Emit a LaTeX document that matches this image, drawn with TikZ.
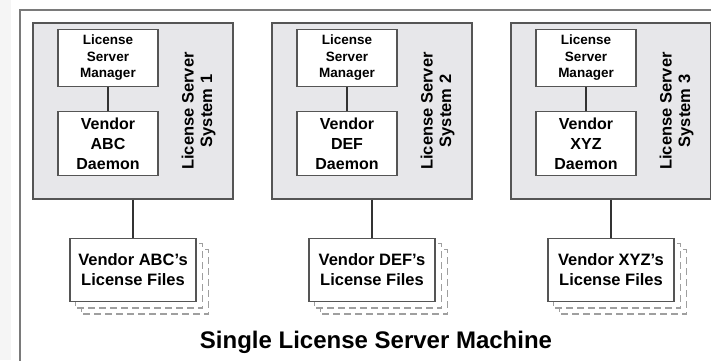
\documentclass[tikz,border=0pt]{standalone}
\usepackage{fontspec}
\setmainfont{Liberation Sans}
\usetikzlibrary{positioning}

\definecolor{sysgray}{HTML}{E7E7EA}
\definecolor{edgegray}{HTML}{555555}
\definecolor{framegray}{HTML}{7A7A7A}

\tikzset{
    sysbox/.style={draw=edgegray, line width=1.3pt, fill=sysgray, minimum width=200pt, minimum height=176pt},
    mgrbox/.style={draw=edgegray, line width=1.3pt, fill=white, minimum width=100pt, minimum height=57pt,
        align=center, font=\fontsize{13.5}{16.5}\selectfont\bfseries},
    dmnbox/.style={draw=edgegray, line width=1.3pt, fill=white, minimum width=100pt, minimum height=64pt,
        align=center, font=\fontsize{16}{20}\selectfont\bfseries},
    filebox/.style={draw=edgegray, line width=1.3pt, fill=white, minimum width=126pt, minimum height=63pt,
        align=center, font=\fontsize{16.5}{20}\selectfont\bfseries},
    syslabel/.style={rotate=90, align=center, font=\fontsize{16.5}{18.5}\selectfont\bfseries},
    copyline/.style={draw=gray!75, line width=1.2pt, dash pattern=on 7pt off 4pt, fill=white},
    link/.style={draw=black!80, line width=1.4pt}
}

\begin{document}
\begin{tikzpicture}[x=1pt, y=-1pt]
    \useasboundingbox (0,0) rectangle (711,360);
    \clip (0,0) rectangle (711,360);
    \fill[gray!8] (0,0) rectangle (11,360);
    \draw[framegray, line width=1.3pt, fill=white] (20,10) rectangle (730,380);

    \foreach \i/\v/\x in {1/ABC/33, 2/DEF/272, 3/XYZ/511}{
        \node[sysbox] (sys\i) at (\x+100,111) {};
        \node[mgrbox, below right=6.5pt and 25pt of sys\i.north west] (mgr\i) {License\\Server\\Manager};
        \node[dmnbox, below=24pt of mgr\i] (dmn\i) {Vendor\\\v\\Daemon};
        \node[syslabel] (lbl\i) at ([xshift=-35pt]sys\i.east) {License Server\\System \i};
        \draw[link] (mgr\i) -- (dmn\i);

        % stacked copies behind the file box
        \node[filebox, below=38pt of sys\i] (files\i) {};
        \draw[copyline] ([shift={(12,12)}]files\i.north west) rectangle ([shift={(12,12)}]files\i.south east);
        \draw[copyline] ([shift={(6,6)}]files\i.north west) rectangle ([shift={(6,6)}]files\i.south east);
        \node[filebox] at (files\i) {Vendor \v's\\License Files};
        \draw[link] (sys\i) -- (files\i);
    }

    \node[font=\fontsize{24}{28}\selectfont\bfseries] (machine) at (376,342) {Single License Server Machine};
\end{tikzpicture}
\end{document}
